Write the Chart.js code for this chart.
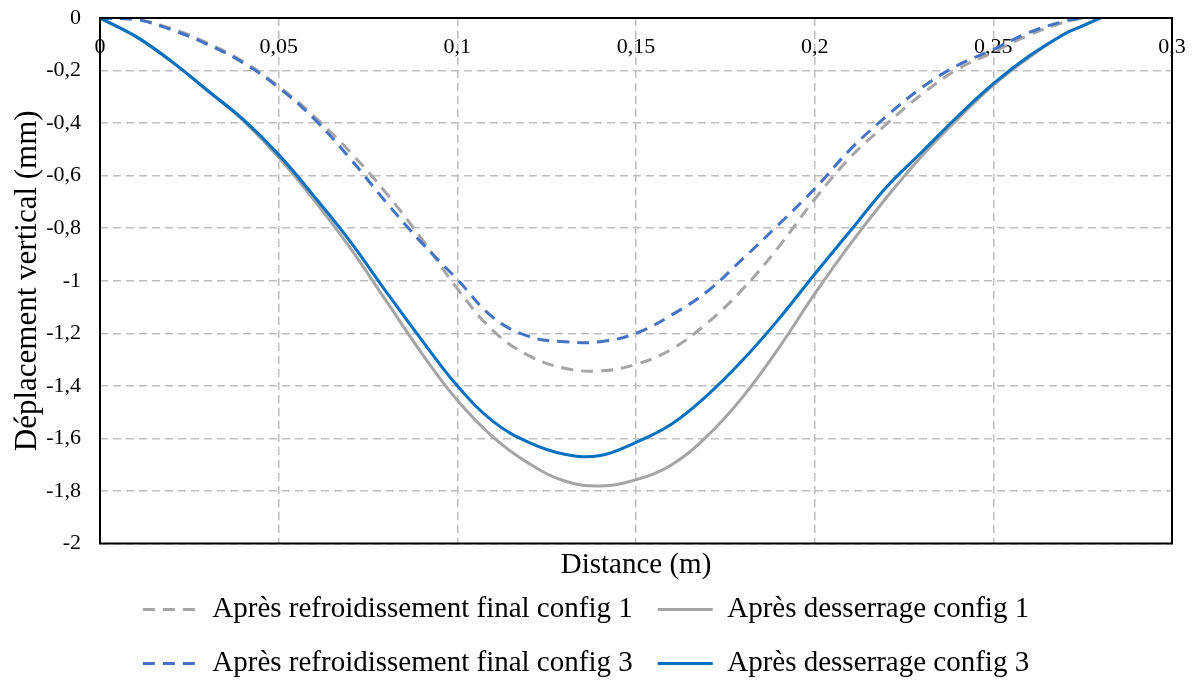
<!DOCTYPE html>
<html>
<head>
<meta charset="utf-8">
<script src="https://cdn.jsdelivr.net/npm/chart.js@4"></script>
<style>
  html, body { margin: 0; padding: 0; background: #fff; }
  #wrap { width: 1193px; height: 688px; }
</style>
</head>
<body>
<div id="wrap"><canvas id="chart"></canvas></div>
<script>
// distance le long de la poutre (m)
const distance = [0, 0.01, 0.02, 0.03, 0.04, 0.05, 0.06, 0.07, 0.08, 0.09, 0.10, 0.11, 0.12, 0.13, 0.14,
  0.15, 0.16, 0.17, 0.18, 0.19, 0.20, 0.21, 0.22, 0.23, 0.24, 0.25, 0.26, 0.27, 0.275, 0.28];

// déplacement vertical (mm)
const refroidConfig1 = [0, -0.005, -0.04, -0.095, -0.165, -0.26, -0.375, -0.51, -0.665, -0.84, -1.03, -1.19, -1.285, -1.333, -1.343,
  -1.318, -1.26, -1.16, -1.03, -0.87, -0.69, -0.53, -0.405, -0.29, -0.195, -0.13, -0.065, -0.015, 0, null];
const desserrageConfig1 = [0, -0.07, -0.165, -0.275, -0.39, -0.53, -0.695, -0.875, -1.075, -1.275, -1.455, -1.595, -1.695, -1.762, -1.781,
  -1.757, -1.70, -1.59, -1.44, -1.255, -1.05, -0.86, -0.685, -0.525, -0.385, -0.255, -0.15, -0.06, -0.03, 0];
const refroidConfig3 = [0, -0.005, -0.045, -0.10, -0.17, -0.265, -0.385, -0.535, -0.70, -0.855, -0.995, -1.14, -1.212, -1.232, -1.232,
  -1.2, -1.13, -1.04, -0.915, -0.785, -0.65, -0.50, -0.375, -0.265, -0.18, -0.12, -0.055, -0.012, 0, null];
const desserrageConfig3 = [0, -0.07, -0.165, -0.275, -0.385, -0.52, -0.68, -0.85, -1.04, -1.225, -1.40, -1.535, -1.615, -1.66, -1.665,
  -1.615, -1.545, -1.435, -1.30, -1.145, -0.975, -0.81, -0.645, -0.51, -0.375, -0.25, -0.145, -0.06, -0.03, 0];

const seriesNames = [
  'Après refroidissement final config 1',
  'Après desserrage config 1',
  'Après refroidissement final config 3',
  'Après desserrage config 3'
];

const FONT = '"Liberation Serif", "Times New Roman", serif';

function points(values) {
  return distance.map((d, i) => ({ x: d, y: values[i] }));
}

function fmt(v, digits) {
  const r = Math.round(v * Math.pow(10, digits)) / Math.pow(10, digits);
  return String(r === 0 ? 0 : r).replace('.', ',');
}

// cadre noir + étiquettes de l'axe x en haut (l'axe croise à y = 0)
const cadre = {
  id: 'cadre',
  beforeDatasetsDraw(chart) {
    const { ctx, chartArea: a, scales: { x } } = chart;
    ctx.save();
    ctx.font = '22px ' + FONT;
    ctx.fillStyle = '#000';
    ctx.textAlign = 'center';
    ctx.textBaseline = 'middle';
    x.ticks.forEach(t => {
      ctx.fillText(fmt(t.value, 2), x.getPixelForValue(t.value), a.top + 29);
    });
    ctx.restore();
  },
  afterDraw(chart) {
    const { ctx, chartArea: a } = chart;
    ctx.save();
    ctx.strokeStyle = '#000';
    ctx.lineWidth = 2;
    ctx.strokeRect(a.left, a.top, a.right - a.left, a.bottom - a.top);
    ctx.restore();
  }
};

const ctx = document.getElementById('chart').getContext('2d');
new Chart(ctx, {
  type: 'line',
  data: {
    datasets: [
      { label: seriesNames[0], data: points(refroidConfig1), borderColor: '#A5A5A5', borderDash: [12, 8], order: 4 },
      { label: seriesNames[1], data: points(desserrageConfig1), borderColor: '#A5A5A5', order: 3 },
      { label: seriesNames[2], data: points(refroidConfig3), borderColor: '#4472C4', borderDash: [12, 8], order: 2 },
      { label: seriesNames[3], data: points(desserrageConfig3), borderColor: '#0070C0', order: 1 }
    ]
  },
  options: {
    responsive: true,
    maintainAspectRatio: false,
    animation: false,
    layout: { padding: { top: 18, right: 21, left: 0, bottom: 0 } },
    elements: {
      line: { borderWidth: 3, tension: 0.4, fill: false },
      point: { radius: 0 }
    },
    scales: {
      x: {
        type: 'linear',
        min: 0,
        max: 0.3,
        ticks: { stepSize: 0.05, display: false },
        grid: { color: '#BEBEBE', lineWidth: 1.5, drawTicks: false },
        border: { display: false, dash: [8, 5] },
        title: {
          display: true,
          text: 'Distance (m)',
          color: '#000',
          font: { family: FONT, size: 29 },
          padding: { top: 0, bottom: -13 }
        },
        afterFit(scale) { scale.height = 26.5; }
      },
      y: {
        min: -2,
        max: 0,
        ticks: {
          stepSize: 0.2,
          padding: 19,
          color: '#000',
          font: { family: FONT, size: 22 },
          callback: v => fmt(v, 1)
        },
        grid: { color: '#BEBEBE', lineWidth: 1.5, drawTicks: false },
        border: { display: false, dash: [8, 5] },
        title: {
          display: true,
          text: 'Déplacement vertical (mm)',
          color: '#000',
          font: { family: FONT, size: 31 },
          padding: { top: 9, bottom: 0 }
        },
        afterFit(scale) {
          scale.width = 100;
          scale.paddingTop = 0;
          scale.paddingBottom = 0;
        }
      }
    },
    plugins: {
      legend: {
        position: 'bottom',
        labels: {
          color: '#000',
          font: { family: FONT, size: 29 },
          usePointStyle: true,
          pointStyle: 'line',
          pointStyleWidth: 55,
          padding: 25,
          sort: (a, b) => a.datasetIndex - b.datasetIndex,
          generateLabels(chart) {
            const items = Chart.defaults.plugins.legend.labels.generateLabels(chart);
            items.forEach(it => {
              const ds = chart.data.datasets[it.datasetIndex];
              it.strokeStyle = ds.borderColor;
              it.fillStyle = ds.borderColor;
              it.lineWidth = 3;
              it.lineDash = ds.borderDash || [];
              it.pointStyle = 'line';
            });
            return items;
          }
        }
      },
      tooltip: { enabled: false }
    }
  },
  plugins: [cadre]
});
</script>
</body>
</html>
